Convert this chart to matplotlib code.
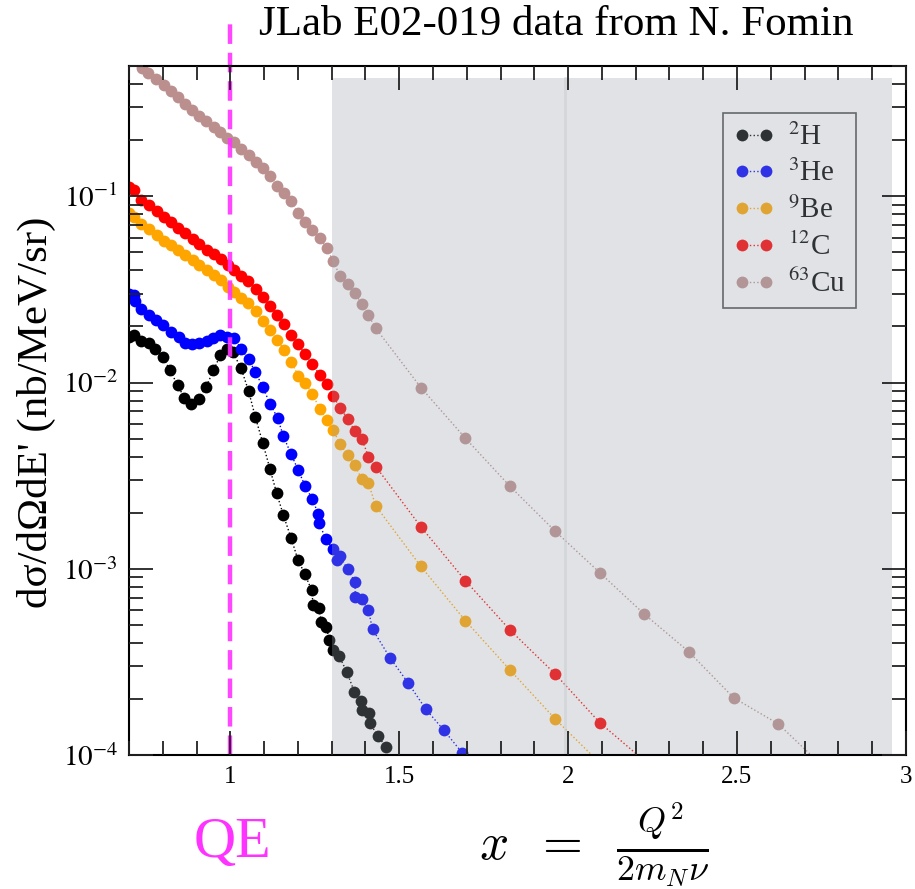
import numpy as np
import matplotlib
matplotlib.use("Agg")
import matplotlib.pyplot as plt
from matplotlib.patches import Rectangle
from matplotlib.ticker import FixedLocator, MultipleLocator, LogLocator, NullFormatter

plt.rcParams['font.family'] = 'serif'
plt.rcParams['font.serif'] = ['Liberation Serif', 'DejaVu Serif']
plt.rcParams['mathtext.fontset'] = 'stix'

# ---------------- data ----------------
# 2H
x_h2 = [0.701, 0.716, 0.736, 0.758, 0.778, 0.800, 0.822, 0.844, 0.864, 0.884,
        0.906, 0.928, 0.950, 0.970, 0.989, 1.007, 1.032, 1.054, 1.074, 1.096,
        1.117, 1.137, 1.157, 1.180, 1.200, 1.221, 1.241, 1.245, 1.262, 1.269,
        1.284, 1.293, 1.304, 1.322, 1.345, 1.367, 1.387, 1.390, 1.410, 1.413,
        1.438, 1.461]
y_h2 = [0.0175, 0.0181, 0.0168, 0.0162, 0.0152, 0.0137, 0.0116, 0.00966, 0.00826, 0.00771,
        0.00820, 0.00946, 0.0116, 0.0140, 0.0152, 0.0146, 0.0119, 0.00900, 0.00653, 0.00474,
        0.00345, 0.00255, 0.00194, 0.00146, 0.00112, 0.000933, 0.000765, 0.000638, 0.000614, 0.000520,
        0.000489, 0.000415, 0.000366, 0.000340, 0.000279, 0.000219, 0.000194, 0.000174, 0.000168, 0.000148,
        0.000126, 0.000110]

# 3He
x_he3 = [0.700, 0.716, 0.718, 0.736, 0.760, 0.780, 0.800, 0.825, 0.847, 0.867,
         0.887, 0.908, 0.930, 0.950, 0.970, 0.989, 1.012, 1.032, 1.054, 1.074,
         1.096, 1.117, 1.140, 1.157, 1.180, 1.201, 1.222, 1.242, 1.261, 1.262,
         1.283, 1.303, 1.315, 1.325, 1.347, 1.369, 1.370, 1.389, 1.409, 1.421,
         1.473, 1.527, 1.579, 1.632, 1.686, 1.739]
y_he3 = [0.0300, 0.0295, 0.0274, 0.0249, 0.0229, 0.0217, 0.0203, 0.0187, 0.0175, 0.0163,
         0.0160, 0.0163, 0.0168, 0.0174, 0.0181, 0.0175, 0.0173, 0.0152, 0.0133, 0.0114,
         0.00946, 0.00771, 0.00645, 0.00515, 0.00412, 0.00338, 0.00277, 0.00238, 0.00196, 0.00177,
         0.00144, 0.00128, 0.00111, 0.00117, 0.000993, 0.000851, 0.000708, 0.000688, 0.000597, 0.000473,
         0.000332, 0.000243, 0.000176, 0.000136, 0.000103, 0.0000783]

# common binning of the heavier targets
x_grid = [0.701, 0.716, 0.736, 0.760, 0.783, 0.805, 0.825, 0.844, 0.866, 0.888,
          0.908, 0.931, 0.951, 0.972, 0.992, 1.012, 1.033, 1.053, 1.076, 1.096,
          1.117, 1.138, 1.160, 1.180, 1.201, 1.221, 1.243, 1.264, 1.285, 1.305,
          1.325, 1.347, 1.368, 1.389, 1.409, 1.431]
x_tail = [1.564, 1.696, 1.828, 1.962, 2.094, 2.226, 2.357, 2.490, 2.622, 2.755]

# 9Be
x_be9 = x_grid + x_tail[:5]
y_be9 = [0.0811, 0.0772, 0.0711, 0.0663, 0.0621, 0.0578, 0.0544, 0.0512, 0.0481, 0.0452,
         0.0425, 0.0400, 0.0376, 0.0353, 0.0325, 0.0305, 0.0285, 0.0266, 0.0241, 0.0214,
         0.0192, 0.0170, 0.0150, 0.0129, 0.0109, 0.00994, 0.00871, 0.00724, 0.00627, 0.00554,
         0.00465, 0.00410, 0.00360, 0.00304, 0.00287, 0.00217,
         0.00103, 0.000526, 0.000286, 0.000156, 0.0000906]

# 12C
x_c12 = x_grid + x_tail[:6]
y_c12 = [0.1127, 0.1074, 0.0957, 0.0900, 0.0832, 0.0772, 0.0726, 0.0677, 0.0634, 0.0591,
         0.0556, 0.0516, 0.0491, 0.0462, 0.0425, 0.0400, 0.0371, 0.0349, 0.0316, 0.0289,
         0.0259, 0.0231, 0.0206, 0.0181, 0.0160, 0.0142, 0.0126, 0.0110, 0.00986, 0.00843,
         0.00730, 0.00640, 0.00552, 0.00500, 0.00399, 0.00353,
         0.00168, 0.000863, 0.000469, 0.000272, 0.000149, 0.0000931]

# 63Cu
x_cu63 = [0.738, 0.757, 0.780, 0.803, 0.825, 0.846, 0.866, 0.886, 0.908, 0.929,
          0.951, 0.970, 0.990, 1.012, 1.032, 1.054, 1.076, 1.096, 1.117, 1.138,
          1.160, 1.180, 1.199, 1.221, 1.243, 1.265, 1.285, 1.305, 1.325, 1.347,
          1.368, 1.390, 1.409, 1.431] + x_tail
y_cu63 = [0.490, 0.459, 0.427, 0.395, 0.367, 0.341, 0.311, 0.292, 0.271, 0.252,
          0.236, 0.222, 0.205, 0.196, 0.179, 0.167, 0.152, 0.141, 0.129, 0.114,
          0.104, 0.0938, 0.0815, 0.0731, 0.0655, 0.0596, 0.0526, 0.0447, 0.0371, 0.0336,
          0.0302, 0.0263, 0.0229, 0.0195,
          0.00940, 0.00502, 0.00277, 0.00159, 0.000952, 0.000570, 0.000359, 0.000203, 0.000147, 0.0000867]

series = [
    (x_h2, y_h2, 'black', r'$^{2}$H'),
    (x_he3, y_he3, 'blue', r'$^{3}$He'),
    (x_be9, y_be9, 'orange', r'$^{9}$Be'),
    (x_c12, y_c12, 'red', r'$^{12}$C'),
    (x_cu63, y_cu63, 'rosybrown', r'$^{63}$Cu'),
]

# ---------------- figure ----------------
fig = plt.figure(figsize=(9.15, 8.89), dpi=100)
ax = fig.add_axes([0.141, 0.1507, 0.849, 0.775])

for xs, ys, col, lab in series:
    ax.plot(xs, ys, linestyle=':', linewidth=1.0, color=col,
            marker='o', markersize=8.5, markeredgewidth=0, label=lab, zorder=3)

ax.set_yscale('log')
ax.set_xlim(0.7, 3.0)
ax.set_ylim(1e-4, 0.5)

# QE line, running above the frame
ax.plot([1, 1], [1e-4, 0.93], color='#ff33ff', linewidth=3.2, dashes=(4.4, 2.0),
        alpha=0.9, clip_on=False, zorder=6)

leg = ax.legend(loc='upper right', bbox_to_anchor=(0.936, 0.932), borderaxespad=0,
                frameon=True, fancybox=False, edgecolor='#222222', facecolor='none',
                numpoints=2, handlelength=1.45, handletextpad=0.45, labelspacing=0.3,
                borderpad=0.35, fontsize=21)
leg.get_frame().set_linewidth(1.2)
leg.set_zorder(4)

# grey overlay over the high-x region
ax.add_patch(Rectangle((1.302, 1e-4), 2.959 - 1.302, 0.432 - 1e-4,
                       facecolor='#9ba4ab', edgecolor='none', alpha=0.31, zorder=5))
ax.plot([1.99, 1.99], [1e-4, 0.432], color='#c9cdd0', linewidth=2, alpha=0.5, zorder=5.5)

# ticks
ax.xaxis.set_major_locator(FixedLocator([1, 1.5, 2, 2.5, 3]))
ax.xaxis.set_minor_locator(MultipleLocator(0.1))
ax.set_xticklabels(['1', '1.5', '2', '2.5', '3'])
ax.yaxis.set_major_locator(FixedLocator([1e-4, 1e-3, 1e-2, 1e-1]))
ax.yaxis.set_minor_locator(LogLocator(base=10, subs=np.arange(2, 10)))
ax.yaxis.set_minor_formatter(NullFormatter())
ax.set_yticklabels([r'$10^{-4}$', r'$10^{-3}$', r'$10^{-2}$', r'$10^{-1}$'])

ax.tick_params(which='both', direction='in', top=True, right=True, width=1.3, color='#222222')
ax.tick_params(which='major', length=17)
ax.tick_params(which='minor', length=10)
ax.tick_params(axis='x', labelsize=18, pad=8)
ax.tick_params(axis='y', labelsize=21, pad=8)
for a in (ax.xaxis, ax.yaxis):
    a.set_zorder(7)
for s in ax.spines.values():
    s.set_linewidth(1.5)
    s.set_zorder(7)

# texts
fig.text(556 / 915, 1 - 25 / 889, 'JLab E02-019 data from N. Fomin', fontsize=31,
         ha='center', va='center')
fig.text(36 / 915, 1 - 412 / 889, "dσ/dΩdE' (nb/MeV/sr)", fontsize=31,
         rotation=90, ha='center', va='center')
fig.text(232 / 915, 1 - 843 / 889, 'QE', fontsize=42, color='#ff33ff',
         ha='center', va='center')
fig.text(594 / 915, 1 - 845 / 889, r'$x\;\;=\;\;\frac{Q^2}{2m_N\nu}$', fontsize=37,
         math_fontfamily='cm', ha='center', va='center')

fig.savefig('out.png', dpi=100)
